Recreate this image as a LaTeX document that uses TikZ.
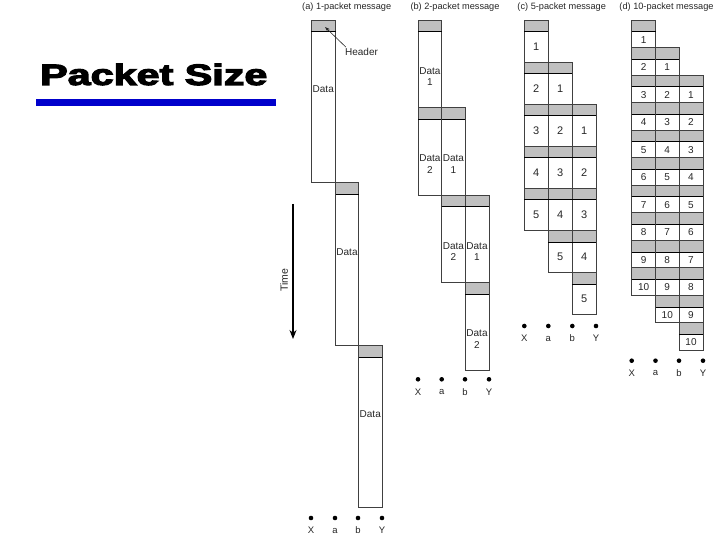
\documentclass[tikz,border=0pt]{standalone}
\usepackage{fontspec}
\usepackage{graphicx}
\setmainfont{Liberation Sans}
\newfontfamily\titlefont[BoldFeatures={FakeBold=3.5}]{Liberation Sans}
\usetikzlibrary{arrows.meta}
\definecolor{hdr}{RGB}{192,192,192}
\definecolor{ttlblue}{RGB}{0,0,204}
\tikzset{
  boxline/.style={draw=black!75, line width=0.6pt},
  sepline/.style={draw=black, line width=1pt},
  celltxt/.style={inner sep=0pt, font=\fontsize{9.5}{11}\selectfont, text=black!85, align=center},
  coltitle/.style={inner sep=0pt, font=\fontsize{9.2}{10}\selectfont, text=black!85},
  lanelbl/.style={inner sep=0pt, font=\fontsize{9.5}{10}\selectfont, text=black!85},
}
% #1..#4 lane x (X,a,b,Y), #5 step, #6 packets, #7 label mode, #8 name prefix, #9 font size
\newcommand\pkcol[9]{%
  \pgfmathtruncatemacro\kmax{#6+1}%
  \foreach \k in {0,...,\kmax}{%
    \foreach \h in {0,1,2}{%
      \pgfmathtruncatemacro\p{\k-\h+1}%
      \ifnum\p>0 \ifnum\p<\numexpr#6+1\relax
        \pgfmathsetmacro\xl{{#1,#2,#3,#4}[\h]}%
        \pgfmathsetmacro\xr{{#1,#2,#3,#4}[\h+1]}%
        \pgfmathsetmacro\ty{20+\k*#5}%
        \pgfmathsetmacro\tb{20+(\k+1)*#5}%
        \pgfmathsetmacro\xm{(\xl+\xr)/2}%
        \fill[hdr] (\xl,\ty) rectangle (\xr,\ty+12);
        \draw[boxline] (\xl,\ty) rectangle (\xr,\tb);
        \draw[sepline] (\xl,\ty+12) -- (\xr,\ty+12);
        \ifcase#7
          \node[celltxt, font=\fontsize{#9}{11}\selectfont] (#8-\k-\h) at (\xm,{\ty+12+(#5-12)*0.38}) {Data};
        \or
          \node[celltxt, font=\fontsize{#9}{11.5}\selectfont] (#8-\k-\h) at (\xm,{\ty+12+(#5-12)/2+7}) {Data\\\p};
        \or
          \node[celltxt, font=\fontsize{#9}{11}\selectfont] (#8-\k-\h) at (\xm,{\ty+6+#5/2}) {\p};
        \fi
      \fi\fi
    }%
  }%
}
\newcommand\lanedots[6]{%
  \foreach \xx/\nm/\lb in {#1/X/X,#2/a/a,#3/b/b,#4/Y/Y}{%
    \fill (\xx,#5) circle (2.3pt);
    \node[lanelbl] (#6-\nm) at (\xx,#5+12.5) {\lb};
  }%
}
\begin{document}
\begin{tikzpicture}[x=1pt,y=-1pt]
\useasboundingbox (0,0) rectangle (720,540);
% title
\node[anchor=base west, inner sep=0pt] (title) at (40,85)
  {\scalebox{1.40}[1]{\titlefont\bfseries\fontsize{29.5}{30}\selectfont Packet Size}};
\fill[ttlblue] (36,99) rectangle (276,106);
% column titles
\node[coltitle] (ta) at (346.7,7) {(a) 1-packet message};
\node[coltitle] (tb) at (455,7) {(b) 2-packet message};
\node[coltitle] (tc) at (561.7,7) {(c) 5-packet message};
\node[coltitle] (td) at (666.5,7) {(d) 10-packet message};
% columns
\pkcol{311}{335.5}{358.5}{382}{162.5}{1}{0}{a}{10}
\pkcol{418}{441.7}{465}{489}{87.5}{2}{1}{b}{10}
\pkcol{524.3}{548.3}{572.3}{596}{42}{5}{2}{c}{11}
\pkcol{631.7}{655.5}{679}{703}{27.5}{10}{2}{d}{10}
% lane dots
\lanedots{311}{335}{358}{382}{518}{la}
\lanedots{418}{441.7}{465}{489}{379.3}{lb}
\lanedots{524.3}{548.3}{572.3}{596}{326}{lc}
\lanedots{631.7}{655.5}{679}{703}{360.7}{ld}
% header callout
\node[lanelbl, font=\fontsize{10}{11}\selectfont] (hdrlbl) at (361.5,52) {Header};
\coordinate (hdrtip) at (325,27);
\draw[black!85, line width=0.6pt, -{Stealth[length=5pt,width=3.5pt]}] ([xshift=1pt,yshift=1pt]hdrlbl.north west) -- (hdrtip);
% time arrow
\coordinate (ts) at (293,204);
\coordinate (te) at (293,339);
\draw[line width=1.1pt, -{Stealth[length=9pt,width=7pt]}] (ts) -- (te);
\node[rotate=90, inner sep=0pt, font=\fontsize{10.5}{12}\selectfont, text=black!85] (time) at (284,280) {Time};
\end{tikzpicture}
\end{document}
